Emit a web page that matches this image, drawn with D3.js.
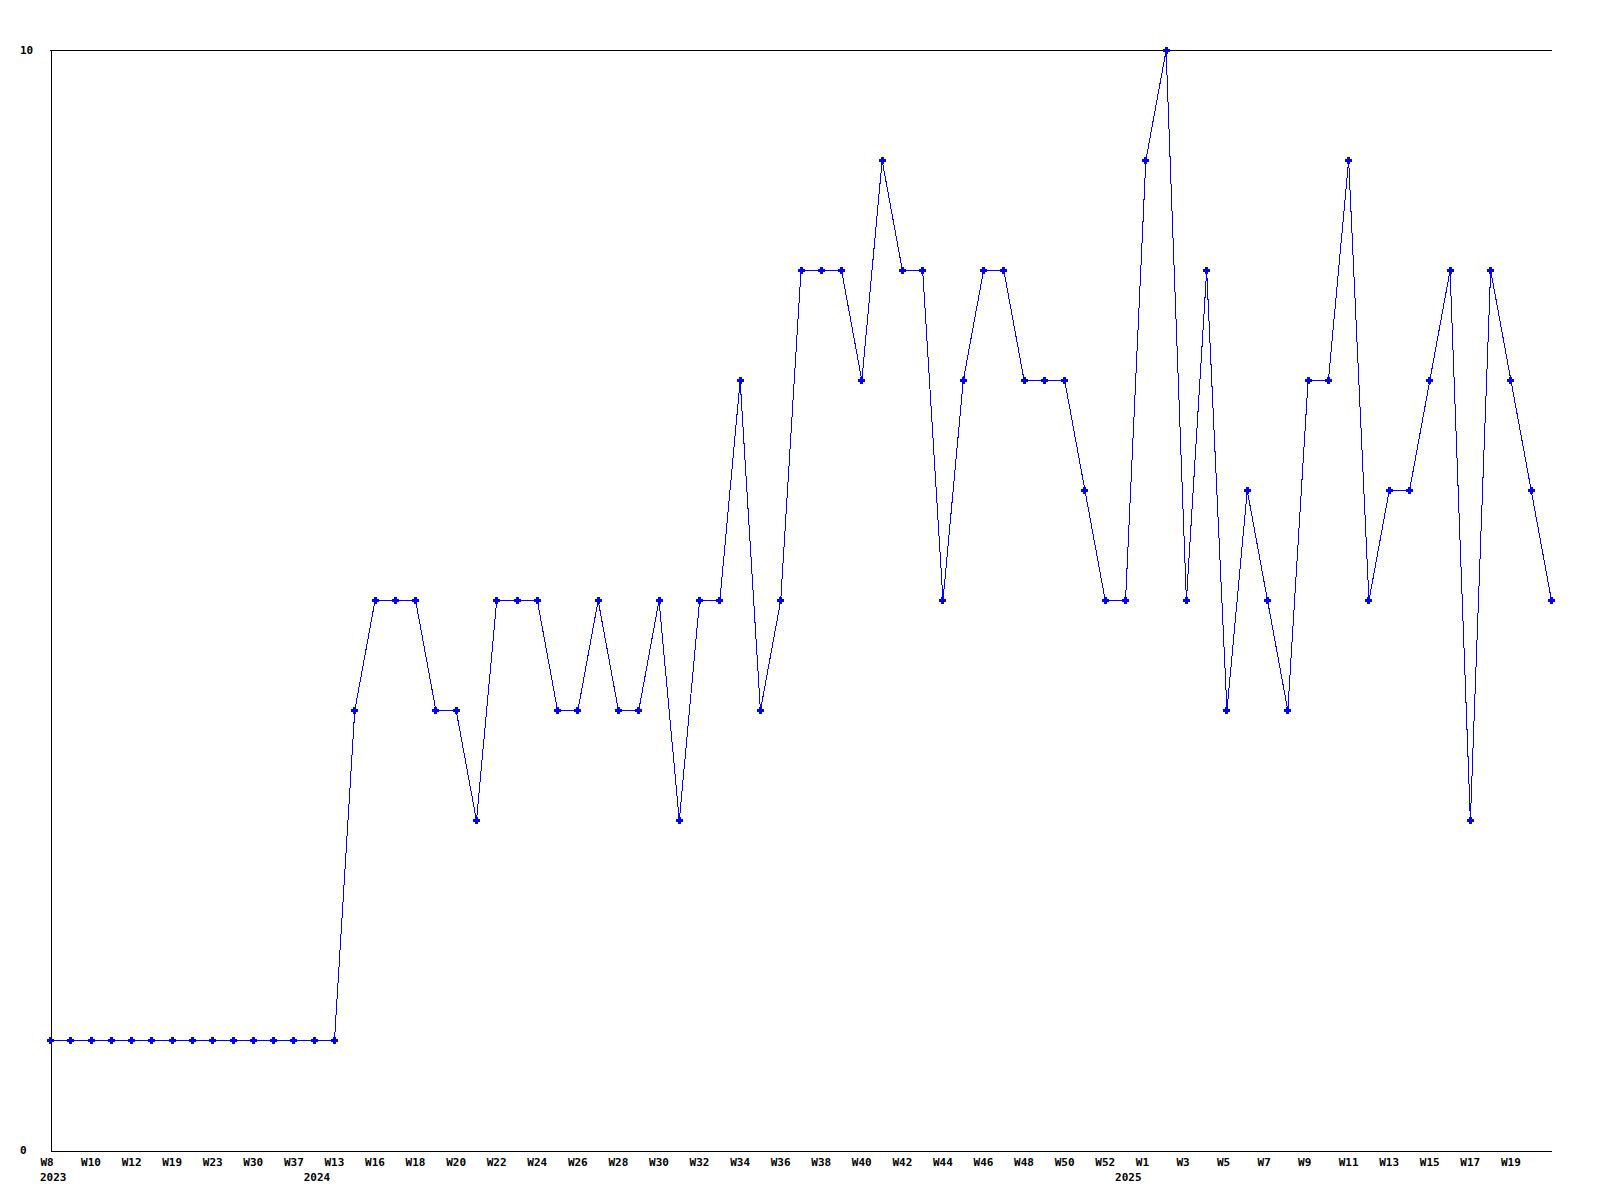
<!DOCTYPE html>
<html>
<head>
<meta charset="utf-8">
<script src="https://cdn.jsdelivr.net/npm/d3@7"></script>
<style>
  html, body { margin: 0; padding: 0; background: #fff; }
  svg { display: block; }
  text { font-family: "DejaVu Sans Mono", monospace; font-weight: bold; font-size: 11px; fill: #000; }
</style>
</head>
<body>
<svg id="chart" width="1600" height="1200"></svg>
<script>
// ---- data ----
const weeks = [
  "W8","W9","W10","W11","W12","W15","W19","W21","W23","W26","W30","W33","W37",
  "W12","W13","W15","W16","W17","W18","W19","W20","W21","W22","W23","W24","W25","W26","W27","W28","W29",
  "W30","W31","W32","W33","W34","W35","W36","W37","W38","W39","W40","W41","W42","W43","W44","W45",
  "W46","W47","W48","W49","W50","W51","W52",
  "W0","W1","W2","W3","W4","W5","W6","W7","W8","W9","W10","W11","W12","W13","W14","W15","W16","W17",
  "W18","W19","W20","W21"
];
const years = [
  "2023","2023","2023","2023","2023","2023","2023","2023","2023","2023","2023","2023","2023",
  "2024","2024","2024","2024","2024","2024","2024","2024","2024","2024","2024","2024","2024","2024","2024","2024","2024",
  "2024","2024","2024","2024","2024","2024","2024","2024","2024","2024","2024","2024","2024","2024","2024","2024",
  "2024","2024","2024","2024","2024","2024","2024",
  "2025","2025","2025","2025","2025","2025","2025","2025","2025","2025","2025","2025","2025","2025","2025","2025","2025","2025",
  "2025","2025","2025","2025"
];
const values = [
  1,1,1,1,1,1,1,1,1,1,1,1,1,
  1,1,4,5,5,5,4,4,3,5,5,5,4,4,5,4,4,
  5,3,5,5,7,4,5,8,8,8,7,9,8,8,5,7,
  8,8,7,7,7,6,5,
  5,9,10,5,8,4,6,5,4,7,7,9,5,6,6,7,8,3,
  8,7,6,5
];
const yTicks = [0, 10];

// ---- layout ----
const svg = d3.select("#chart");
const mLeft = 50, mRight = 1551, mTop = 50, mBottom = 1150;
const idx = d3.range(values.length);
const x = d3.scaleLinear().domain([0, values.length - 1]).range([mLeft, mRight]);
const y = d3.scaleLinear().domain([0, 10]).range([mBottom, mTop]);

// top border
svg.append("line")
  .attr("x1", mLeft).attr("x2", mRight + 0.5)
  .attr("y1", mTop + 0.5).attr("y2", mTop + 0.5)
  .attr("stroke", "#000").attr("stroke-width", 1)
  .attr("shape-rendering", "crispEdges");

// bottom axis (every other week, last point unlabeled)
const xAxis = d3.axisBottom(x)
  .tickValues(idx.filter(i => i % 2 === 0 && i < values.length - 1))
  .tickSize(0)
  .tickSizeOuter(0)
  .tickFormat(i => weeks[i]);
const gx = svg.append("g")
  .attr("transform", `translate(0.5,${mBottom + 0.5})`)
  .call(xAxis);
gx.attr("font-family", null).attr("font-size", null);
gx.select(".domain").attr("stroke", "#000").attr("shape-rendering", "crispEdges");
gx.selectAll("text")
  .attr("text-anchor", "start")
  .attr("dx", -10.5)
  .attr("y", 15.5)
  .attr("dy", 0);

// year labels at first index of each year
const yearStarts = idx.filter(i => i === 0 || years[i] !== years[i - 1]);
svg.append("g").selectAll("text")
  .data(yearStarts)
  .join("text")
  .attr("x", i => x(i) - 10)
  .attr("y", 1181)
  .text(i => years[i]);

// left axis
const yAxis = d3.axisLeft(y)
  .tickValues(yTicks)
  .tickSize(0)
  .tickSizeOuter(0)
  .tickFormat(d3.format("d"));
const gy = svg.append("g")
  .attr("transform", `translate(${mLeft + 0.5},0)`)
  .call(yAxis);
gy.attr("font-family", null).attr("font-size", null);
gy.select(".domain").attr("stroke", "#000").attr("shape-rendering", "crispEdges");
gy.selectAll("text")
  .attr("text-anchor", "start")
  .attr("x", 20 - mLeft - 0.5)
  .attr("dy", "0.32em");

// series line
const line = d3.line().x(i => x(i) + 0.5).y(i => y(values[i]) + 0.5);
svg.append("path")
  .datum(idx)
  .attr("d", line)
  .attr("fill", "none")
  .attr("stroke", "#0000ff")
  .attr("stroke-width", 1)
  .attr("shape-rendering", "crispEdges");

// markers (small cross)
const marker = d3.symbol().type(d3.symbolCross).size(22);
svg.append("g").selectAll("path")
  .data(idx)
  .join("path")
  .attr("transform", i => `translate(${Math.round(x(i)) + 0.5},${Math.round(y(values[i])) + 0.5})`)
  .attr("d", marker)
  .attr("fill", "#0000ff")
  .attr("shape-rendering", "crispEdges");
</script>
</body>
</html>
